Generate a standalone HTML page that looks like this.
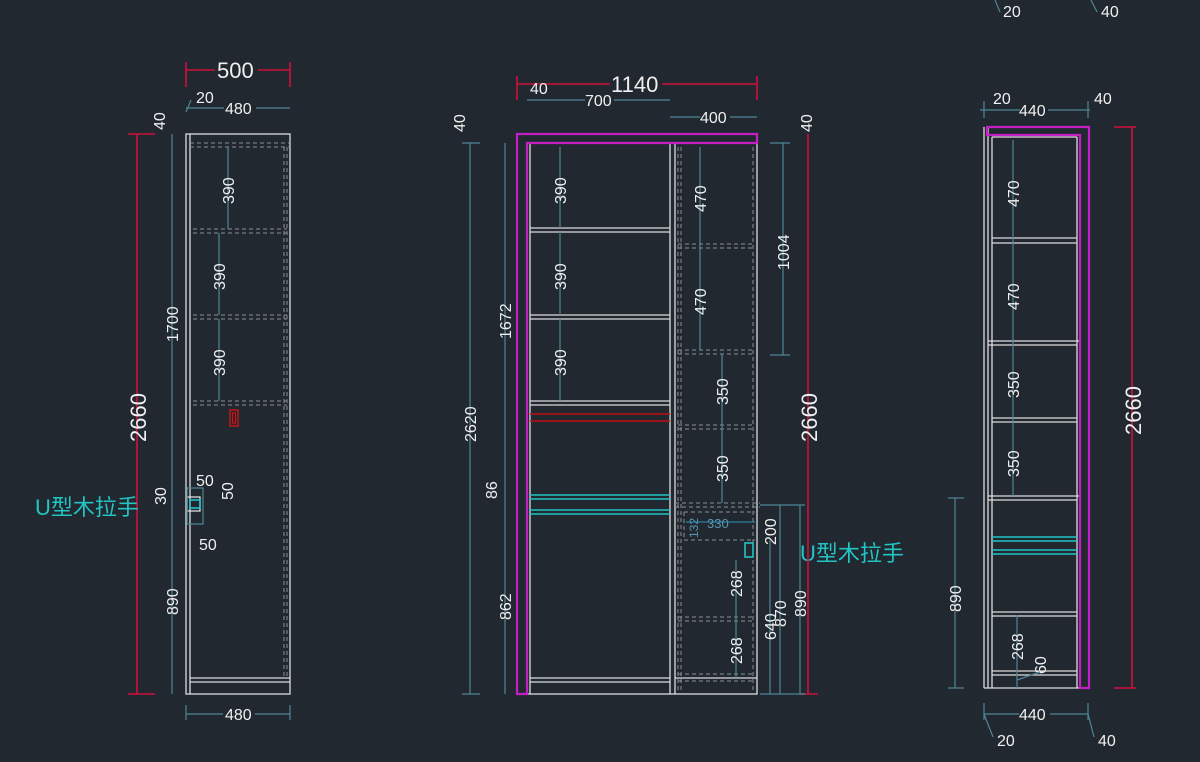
<!DOCTYPE html>
<html><head><meta charset="utf-8"><style>
html,body{margin:0;padding:0;background:#212830;}
svg{display:block}
text{font-family:"Liberation Sans","Noto Sans CJK SC",sans-serif;fill:#f0f0f0;}
.w{stroke:#dcdcdc;stroke-width:1.3;fill:none}
.d{stroke:#8a8f95;stroke-width:1;fill:none;stroke-dasharray:4 3}
.m{stroke:#c41fc4;stroke-width:2.2;fill:none}
.r{stroke:#d0103a;stroke-width:1.6;fill:none}
.c{stroke:#22c4c4;stroke-width:1.6;fill:none}
.t{stroke:#4f8696;stroke-width:1.2;fill:none}
.s{font-size:16px}
.b{font-size:22px}
</style></head><body>
<svg width="1200" height="762" viewBox="0 0 1200 762" xmlns="http://www.w3.org/2000/svg">
<!-- ============ LEFT CABINET ============ -->
<rect class="w" x="186" y="134" width="104" height="560"/>
<line class="w" x1="190" y1="134" x2="190" y2="694"/>
<line class="w" x1="190" y1="678" x2="290" y2="678"/>
<line class="w" x1="190" y1="682" x2="290" y2="682"/>
<line class="d" x1="190" y1="143" x2="290" y2="143"/>
<line class="d" x1="190" y1="147" x2="290" y2="147"/>
<line class="d" x1="193" y1="229" x2="287" y2="229"/>
<line class="d" x1="193" y1="233" x2="287" y2="233"/>
<line class="d" x1="193" y1="315" x2="287" y2="315"/>
<line class="d" x1="193" y1="319" x2="287" y2="319"/>
<line class="d" x1="193" y1="401" x2="287" y2="401"/>
<line class="d" x1="193" y1="405" x2="287" y2="405"/>
<line class="d" x1="284" y1="147" x2="284" y2="678"/>
<line class="d" x1="287" y1="147" x2="287" y2="678"/>
<rect x="230" y="410" width="8" height="16" fill="none" stroke="#e01010" stroke-width="1.3"/>
<rect x="232.5" y="413" width="3" height="10" fill="none" stroke="#e01010" stroke-width="1"/>
<!-- dims -->
<line class="r" x1="186" y1="62" x2="186" y2="87"/><line class="r" x1="290" y1="62" x2="290" y2="87"/>
<line class="r" x1="186" y1="70" x2="215" y2="70"/><line class="r" x1="258" y1="70" x2="290" y2="70"/>
<text class="b" x="217" y="78">500</text>
<line class="t" x1="186" y1="108" x2="224" y2="108"/><line class="t" x1="256" y1="108" x2="290" y2="108"/>
<text class="s" x="225" y="114">480</text><text class="s" x="196" y="103">20</text>
<line class="t" x1="191" y1="100" x2="186" y2="112"/>
<line class="r" x1="137" y1="134" x2="137" y2="694"/><line class="r" x1="128" y1="134" x2="155" y2="134"/><line class="r" x1="128" y1="694" x2="155" y2="694"/>
<text class="b" transform="translate(146,442) rotate(-90)">2660</text>
<line class="t" x1="172" y1="134" x2="172" y2="694"/>
<text class="s" transform="translate(178,342) rotate(-90)">1700</text>
<text class="s" transform="translate(178,615) rotate(-90)">890</text>
<text class="s" transform="translate(165,130) rotate(-90)">40</text>
<line class="t" x1="228" y1="147" x2="228" y2="229"/><text class="s" transform="translate(234,204) rotate(-90)">390</text>
<line class="t" x1="219" y1="233" x2="219" y2="315"/><text class="s" transform="translate(225,290) rotate(-90)">390</text>
<line class="t" x1="219" y1="319" x2="219" y2="401"/><text class="s" transform="translate(225,376) rotate(-90)">390</text>
<line class="t" x1="186" y1="714" x2="223" y2="714"/><line class="t" x1="255" y1="714" x2="290" y2="714"/>
<line class="t" x1="186" y1="705" x2="186" y2="720"/><line class="t" x1="290" y1="705" x2="290" y2="720"/>
<text class="s" x="225" y="720">480</text>
<!-- U handle -->
<rect x="187" y="497" width="13" height="14" fill="#212830" class="w"/>
<rect x="190" y="500" width="10" height="8" class="c" stroke-width="1.2"/>
<rect x="187" y="488" width="16" height="36" class="t"/>
<text class="s" transform="translate(166,505) rotate(-90)">30</text>
<text class="s" x="196" y="486">50</text><text class="s" transform="translate(233,500) rotate(-90)">50</text>
<text class="s" x="199" y="550">50</text>
<text x="35" y="515" style="font-size:22px;fill:#22c4c4">U型木拉手</text>

<!-- ============ MIDDLE CABINET ============ -->
<rect class="w" x="527" y="143" width="230" height="551"/>
<line class="w" x1="670" y1="143" x2="670" y2="694"/>
<line class="w" x1="675" y1="143" x2="675" y2="694"/>
<line class="w" x1="530" y1="143" x2="530" y2="694"/>
<line class="w" x1="530" y1="228" x2="670" y2="228"/><line class="w" x1="530" y1="232" x2="670" y2="232"/>
<line class="w" x1="530" y1="315" x2="670" y2="315"/><line class="w" x1="530" y1="319" x2="670" y2="319"/>
<line class="w" x1="530" y1="401" x2="670" y2="401"/><line class="w" x1="530" y1="405" x2="670" y2="405"/>
<line x1="530" y1="414" x2="670" y2="414" stroke="#c01010" stroke-width="1.6"/>
<line x1="530" y1="421" x2="670" y2="421" stroke="#c01010" stroke-width="1.6"/>
<line class="c" x1="530" y1="495" x2="670" y2="495"/><line class="c" x1="530" y1="499" x2="670" y2="499"/>
<line class="c" x1="530" y1="510" x2="670" y2="510"/><line class="c" x1="530" y1="514" x2="670" y2="514"/>
<line class="w" x1="530" y1="678" x2="670" y2="678"/><line class="w" x1="530" y1="682" x2="670" y2="682"/>
<line class="w" x1="675" y1="678" x2="757" y2="678"/>
<g class="d">
<line x1="678" y1="147" x2="678" y2="690"/><line x1="681" y1="147" x2="681" y2="690"/>
<line x1="753" y1="147" x2="753" y2="690"/>
<line x1="678" y1="244" x2="753" y2="244"/><line x1="678" y1="248" x2="753" y2="248"/>
<line x1="678" y1="350" x2="753" y2="350"/><line x1="678" y1="354" x2="753" y2="354"/>
<line x1="678" y1="425" x2="753" y2="425"/><line x1="678" y1="429" x2="753" y2="429"/>
<line x1="675" y1="503" x2="760" y2="503"/><line x1="675" y1="507" x2="760" y2="507"/>
<line x1="684" y1="512" x2="755" y2="512"/><line x1="684" y1="540" x2="755" y2="540"/><line x1="684" y1="512" x2="684" y2="540"/>
<line x1="678" y1="617" x2="753" y2="617"/><line x1="678" y1="621" x2="753" y2="621"/>
<line x1="678" y1="674" x2="753" y2="674"/><line x1="678" y1="681" x2="753" y2="681"/>
</g>
<path class="m" d="M517,134 H757 V143 H527 V694 H517 Z"/>
<rect x="745" y="543" width="8" height="14" class="c" stroke-width="1.2"/>
<text x="800" y="561" style="font-size:22px;fill:#22c4c4">U型木拉手</text>
<!-- top dims -->
<line class="r" x1="517" y1="76" x2="517" y2="100"/><line class="r" x1="757" y1="76" x2="757" y2="100"/>
<line class="r" x1="517" y1="84" x2="610" y2="84"/><line class="r" x1="662" y1="84" x2="757" y2="84"/>
<text class="b" x="611" y="92">1140</text>
<text class="s" x="530" y="94">40</text>
<line class="t" x1="527" y1="100" x2="585" y2="100"/><line class="t" x1="614" y1="100" x2="670" y2="100"/>
<text class="s" x="585" y="106">700</text>
<line class="t" x1="670" y1="117" x2="700" y2="117"/><line class="t" x1="730" y1="117" x2="757" y2="117"/>
<text class="s" x="700" y="123">400</text>
<text class="s" transform="translate(465,132) rotate(-90)">40</text>
<text class="s" transform="translate(812,132) rotate(-90)">40</text>
<!-- left dims -->
<line class="t" x1="470" y1="143" x2="470" y2="694"/><line class="t" x1="462" y1="143" x2="480" y2="143"/><line class="t" x1="462" y1="694" x2="480" y2="694"/>
<text class="s" transform="translate(476,442) rotate(-90)">2620</text>
<line class="t" x1="505" y1="143" x2="505" y2="694"/>
<text class="s" transform="translate(511,339) rotate(-90)">1672</text>
<text class="s" transform="translate(497,499) rotate(-90)">86</text>
<text class="s" transform="translate(511,620) rotate(-90)">862</text>
<!-- inner dims -->
<line class="t" x1="560" y1="147" x2="560" y2="228"/><text class="s" transform="translate(566,204) rotate(-90)">390</text>
<line class="t" x1="560" y1="232" x2="560" y2="315"/><text class="s" transform="translate(566,290) rotate(-90)">390</text>
<line class="t" x1="560" y1="319" x2="560" y2="401"/><text class="s" transform="translate(566,376) rotate(-90)">390</text>
<line class="t" x1="700" y1="147" x2="700" y2="350"/>
<text class="s" transform="translate(706,212) rotate(-90)">470</text><text class="s" transform="translate(706,315) rotate(-90)">470</text>
<line class="t" x1="722" y1="354" x2="722" y2="503"/>
<text class="s" transform="translate(728,405) rotate(-90)">350</text><text class="s" transform="translate(728,482) rotate(-90)">350</text>
<line class="t" x1="736" y1="560" x2="736" y2="678"/>
<text class="s" transform="translate(742,597) rotate(-90)">268</text><text class="s" transform="translate(742,664) rotate(-90)">268</text>
<line x1="686" y1="522" x2="755" y2="522" stroke="#2a7fa0" stroke-width="1.2"/>
<text x="707" y="528" style="font-size:13px;fill:#5a95ad">330</text>
<text transform="translate(698,538) rotate(-90)" style="font-size:12px;fill:#5a95ad">132</text>
<!-- right dims -->
<line class="t" x1="783" y1="143" x2="783" y2="355"/><line class="t" x1="770" y1="143" x2="790" y2="143"/><line class="t" x1="770" y1="355" x2="790" y2="355"/>
<text class="s" transform="translate(789,270) rotate(-90)">1004</text>
<line class="r" x1="808" y1="134" x2="808" y2="694"/><line class="r" x1="800" y1="694" x2="818" y2="694"/>
<text class="b" transform="translate(817,442) rotate(-90)">2660</text>
<line class="t" x1="770" y1="540" x2="770" y2="694"/><text class="s" transform="translate(776,640) rotate(-90)">640</text>
<line class="t" x1="780" y1="505" x2="780" y2="694"/><text class="s" transform="translate(786,627) rotate(-90)">870</text>
<line class="t" x1="800" y1="505" x2="800" y2="694"/><text class="s" transform="translate(806,617) rotate(-90)">890</text>
<line class="t" x1="760" y1="505" x2="805" y2="505"/><line class="t" x1="760" y1="694" x2="805" y2="694"/>
<text class="s" transform="translate(776,545) rotate(-90)">200</text>

<!-- ============ RIGHT CABINET ============ -->
<line class="w" x1="984" y1="127" x2="984" y2="688"/>
<line class="w" x1="988" y1="127" x2="988" y2="688"/>
<line class="w" x1="992" y1="137" x2="992" y2="688"/>
<line class="w" x1="1077" y1="137" x2="1077" y2="688"/>
<line class="w" x1="984" y1="688" x2="1080" y2="688"/>
<line class="w" x1="992" y1="137" x2="1077" y2="137"/>
<g class="w">
<line x1="992" y1="238" x2="1077" y2="238"/><line x1="992" y1="243" x2="1077" y2="243"/>
<line x1="988" y1="341" x2="1080" y2="341"/><line x1="988" y1="345" x2="1077" y2="345"/>
<line x1="992" y1="418" x2="1077" y2="418"/><line x1="992" y1="422" x2="1077" y2="422"/>
<line x1="988" y1="496" x2="1080" y2="496"/><line x1="988" y1="500" x2="1077" y2="500"/>
<line x1="992" y1="612" x2="1077" y2="612"/><line x1="992" y1="616" x2="1077" y2="616"/>
<line x1="992" y1="671" x2="1077" y2="671"/><line x1="992" y1="675" x2="1077" y2="675"/>
</g>
<line class="c" x1="992" y1="537" x2="1077" y2="537"/><line class="c" x1="992" y1="541" x2="1077" y2="541"/>
<line class="c" x1="992" y1="550" x2="1077" y2="550"/><line class="c" x1="992" y1="554" x2="1077" y2="554"/>
<path class="m" d="M987,127 H1089 V688 H1080 V135 H987 Z"/>
<line class="t" x1="1013" y1="140" x2="1013" y2="496"/>
<text class="s" transform="translate(1019,207) rotate(-90)">470</text>
<text class="s" transform="translate(1019,310) rotate(-90)">470</text>
<text class="s" transform="translate(1019,398) rotate(-90)">350</text>
<text class="s" transform="translate(1019,477) rotate(-90)">350</text>
<line class="t" x1="1017" y1="615" x2="1017" y2="688"/>
<text class="s" transform="translate(1023,660) rotate(-90)">268</text>
<text class="s" transform="translate(1046,674) rotate(-90)">60</text>
<line class="t" x1="1017" y1="680" x2="1040" y2="672"/>
<line class="t" x1="980" y1="110" x2="1020" y2="110"/><line class="t" x1="1048" y1="110" x2="1090" y2="110"/>
<text class="s" x="1019" y="116">440</text><text class="s" x="993" y="104">20</text><text class="s" x="1094" y="104">40</text>
<line class="t" x1="984" y1="101" x2="984" y2="118"/><line class="t" x1="1088" y1="101" x2="1088" y2="118"/>
<line class="r" x1="1132" y1="127" x2="1132" y2="688"/><line class="r" x1="1114" y1="127" x2="1136" y2="127"/><line class="r" x1="1114" y1="688" x2="1136" y2="688"/>
<text class="b" transform="translate(1141,435) rotate(-90)">2660</text>
<line class="t" x1="955" y1="498" x2="955" y2="688"/><line class="t" x1="948" y1="498" x2="964" y2="498"/><line class="t" x1="948" y1="688" x2="964" y2="688"/>
<text class="s" transform="translate(961,612) rotate(-90)">890</text>
<line class="t" x1="984" y1="714" x2="1019" y2="714"/><line class="t" x1="1050" y1="714" x2="1088" y2="714"/>
<line class="t" x1="984" y1="703" x2="984" y2="720"/><line class="t" x1="1088" y1="703" x2="1088" y2="720"/>
<text class="s" x="1019" y="720">440</text>
<line class="t" x1="984" y1="714" x2="993" y2="737"/><line class="t" x1="1088" y1="714" x2="1094" y2="737"/>
<text class="s" x="997" y="746">20</text><text class="s" x="1098" y="746">40</text>
<text class="s" x="1003" y="17">20</text><text class="s" x="1101" y="17">40</text>
<line class="t" x1="995" y1="0" x2="1000" y2="12"/><line class="t" x1="1091" y1="0" x2="1097" y2="12"/>
</svg>
</body></html>
